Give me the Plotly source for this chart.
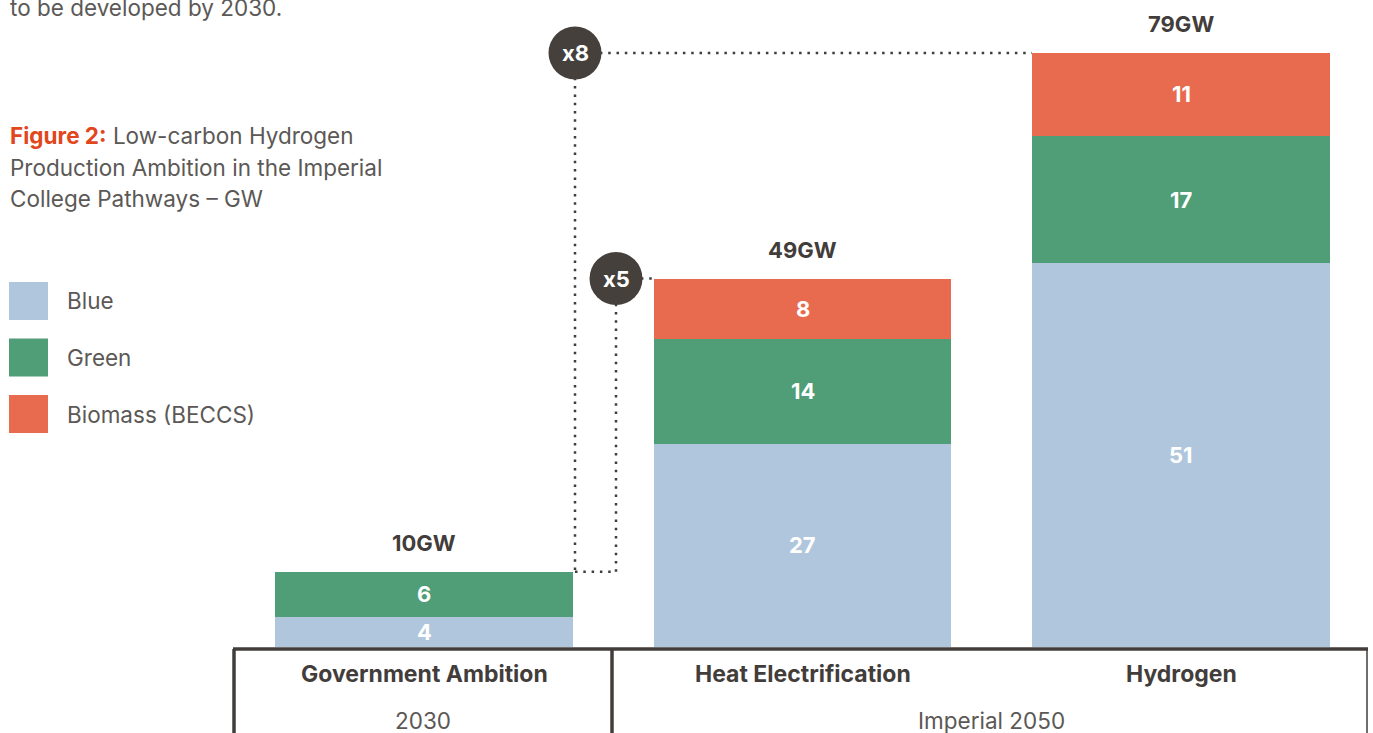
import plotly.graph_objects as go

# ---- data ----
categories = ["Government Ambition", "Heat Electrification", "Hydrogen"]
groups = ["2030", "Imperial 2050"]
blue = [4, 27, 51]
green = [6, 14, 17]
biomass = [0, 8, 11]
totals_labels = ["10GW", "49GW", "79GW"]
multipliers = ["x8", "x5"]
legend_names = ["Blue", "Green", "Biomass (BECCS)"]

W, H = 1373, 733
OX, OY = 0, 0          # page offset of the figure (body margin removed below)
C_BLUE = "#afc6dc"
C_GREEN = "#4f9e77"
C_RED = "#e96b4f"
DARK = "#423d3a"
GREY = "#5b5856"
FONT = "Inter"
XS = 378.5   # px per category
YS = 7.52    # px per GW
X0PX, Y0PX = 424, 647

def px(x):
    return (x - OX) / W

def py(y):
    return 1 - (y - OY) / H

xpos = [0, 1, 2]
fig = go.Figure()
for name, vals, col in [("Blue", blue, C_BLUE), ("Green", green, C_GREEN), ("Biomass (BECCS)", biomass, C_RED)]:
    fig.add_trace(go.Bar(x=xpos, y=vals, name=name, marker=dict(color=col, line=dict(width=0)),
                         width=0.787, showlegend=False, hoverinfo="skip"))

xlo = -(X0PX - OX) / XS
ylo = -(H - (Y0PX - OY)) / YS
fig.update_layout(barmode="stack", width=W, height=H,
                  margin=dict(l=0, r=0, t=0, b=0),
                  paper_bgcolor="white", plot_bgcolor="white",
                  xaxis=dict(range=[xlo, xlo + W / XS], visible=False, fixedrange=True),
                  yaxis=dict(range=[ylo, ylo + H / YS], visible=False, fixedrange=True),
                  font=dict(family=FONT))

ann = []
shapes = []

def A(**kw):
    kw.setdefault("showarrow", False)
    kw.setdefault("xanchor", "center")
    kw.setdefault("yanchor", "middle")
    ann.append(kw)

# segment labels and totals
for i in range(3):
    base = 0
    for vals in (blue, green, biomass):
        v = vals[i]
        if v > 0:
            A(x=xpos[i], y=base + v / 2, xref="x", yref="y", text=f"<b>{v}</b>",
              font=dict(size=22, color="white", family=FONT))
        base += v
    total = blue[i] + green[i] + biomass[i]
    A(x=xpos[i], y=total, xref="x", yref="y", text=f"<b>{totals_labels[i]}</b>",
      yanchor="bottom", yshift=14, font=dict(size=22, color=DARK, family=FONT))
    A(x=xpos[i], y=py(674), xref="x", yref="paper", text=f"<b>{categories[i]}</b>",
      font=dict(size=23, color=DARK, family=FONT))

A(x=px(423), y=py(720), xref="paper", yref="paper", text=groups[0],
  font=dict(size=22.5, color=GREY, family=FONT))
A(x=px(991), y=py(720), xref="paper", yref="paper", text=groups[1],
  font=dict(size=22.5, color=GREY, family=FONT))

# table borders
shapes.append(dict(type="line", xref="paper", yref="paper", x0=px(233), x1=px(1368), y0=py(649), y1=py(649),
                   line=dict(color=DARK, width=3.5)))
shapes.append(dict(type="line", xref="paper", yref="paper", x0=px(234), x1=px(234), y0=py(649), y1=py(745),
                   line=dict(color=DARK, width=3.5)))
shapes.append(dict(type="line", xref="paper", yref="paper", x0=px(612), x1=px(612), y0=py(649), y1=py(745),
                   line=dict(color=DARK, width=3.5)))
shapes.append(dict(type="line", xref="paper", yref="paper", x0=px(1367), x1=px(1367), y0=py(649), y1=py(745),
                   line=dict(color=DARK, width=1.5)))

# dotted connectors
t1 = blue[0] + green[0] + biomass[0]
t2 = blue[1] + green[1] + biomass[1]
t3 = blue[2] + green[2] + biomass[2]
dot = dict(color=DARK, width=2.5, dash="2.5px,5.8px")
shapes.append(dict(type="line", xref="paper", yref="y", x0=px(575), x1=px(1032), y0=t3, y1=t3, line=dot))
shapes.append(dict(type="line", xref="paper", yref="y", x0=px(575), x1=px(575), y0=t3, y1=t1, line=dot))
shapes.append(dict(type="line", xref="paper", yref="y", x0=px(575), x1=px(616), y0=t1, y1=t1, line=dot))
shapes.append(dict(type="line", xref="paper", yref="y", x0=px(616), x1=px(616), y0=t1, y1=t2, line=dot))
shapes.append(dict(type="line", xref="paper", yref="y", x0=px(616), x1=px(655), y0=t2, y1=t2, line=dot))

for cx, cy, lab in [(575, t3, multipliers[0]), (616, t2, multipliers[1])]:
    shapes.append(dict(type="circle", xref="paper", yref="y", xsizemode="pixel", ysizemode="pixel",
                       xanchor=px(cx), yanchor=cy, x0=-26.5, x1=26.5, y0=-26.5, y1=26.5,
                       fillcolor="#45403c", line=dict(width=0)))
    A(x=px(cx), y=cy, xref="paper", yref="y", text=f"<b>{lab}</b>",
      font=dict(size=22, color="white", family=FONT))

# left text (cut by the top edge, as in the reference)
A(x=px(8), y=py(7), xref="paper", yref="paper", xanchor="left", text="to be developed by 2030.",
  font=dict(size=22.5, color=GREY, family=FONT))
cap = ["<b><span style='color:#e2461c'>Figure 2:</span></b> Low-carbon Hydrogen",
       "Production Ambition in the Imperial",
       "College Pathways – GW"]
for k, line in enumerate(cap):
    A(x=px(8), y=py(135 + 32 * k), xref="paper", yref="paper", xanchor="left", text=line,
      font=dict(size=22.5, color=GREY, family=FONT))

for k, (name, col) in enumerate(zip(legend_names, [C_BLUE, C_GREEN, C_RED])):
    cy = 301 + 56.5 * k
    shapes.append(dict(type="rect", xref="paper", yref="paper", x0=px(9), x1=px(48), y0=py(cy - 19), y1=py(cy + 19),
                       fillcolor=col, line=dict(width=0)))
    A(x=px(65), y=py(cy), xref="paper", yref="paper", xanchor="left", text=name,
      font=dict(size=22.5, color=GREY, family=FONT))

fig.update_layout(annotations=ann, shapes=shapes)
fig.write_html("out.html", config={"displayModeBar": False, "staticPlot": True},
               post_script="document.body.style.margin='0';document.body.style.overflow='hidden';")
